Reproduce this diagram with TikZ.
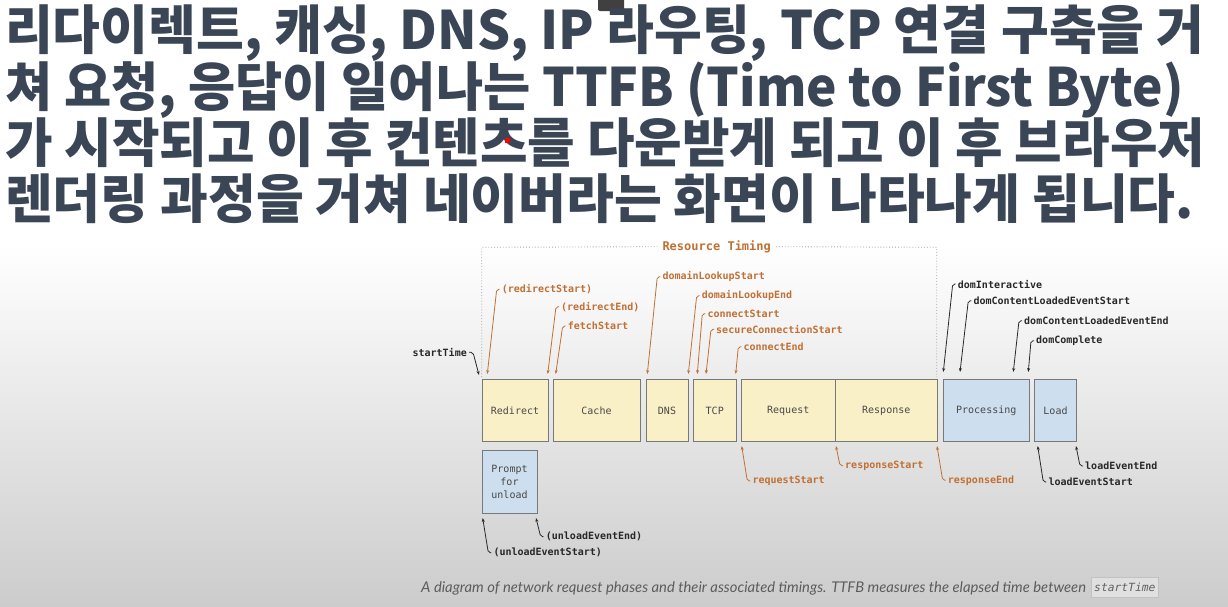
\documentclass[tikz,border=0pt]{standalone}
\usepackage{fontspec}
\usetikzlibrary{arrows.meta}
\newfontfamily\kr{Noto Sans CJK KR}
\newfontfamily\monof{DejaVu Sans Mono}
\newfontfamily\capfont{Lato}
\definecolor{ttl}{RGB}{58,69,86}
\definecolor{org}{RGB}{192,112,52}
\definecolor{yfill}{RGB}{250,240,200}
\definecolor{bfill}{RGB}{205,222,238}
\definecolor{bord}{RGB}{120,120,120}
\definecolor{ink}{RGB}{40,40,40}
\tikzset{
  ttlline/.style={font=\kr\bfseries\fontsize{53}{58}\selectfont, text=ttl, inner sep=0pt, anchor=base west},
  ybox/.style={draw=bord, fill=yfill, line width=0.9pt, inner sep=0pt, font=\monof\fontsize{10}{13}\selectfont, text=ink!85},
  bbox/.style={ybox, fill=bfill, align=center},
  lab/.style={font=\monof\bfseries\fontsize{10}{12}\selectfont, inner sep=0pt, anchor=west, text=ink},
  olab/.style={lab, text=org},
  conn/.style={draw=ink, line width=0.8pt, rounded corners=2pt, -{Stealth[length=4pt,width=3pt]}},
  oconn/.style={conn, draw=org},
  bracket/.style={draw=black!35, dotted, line width=0.9pt}
}
\begin{document}
\begin{tikzpicture}[x=1pt,y=-1pt]
\useasboundingbox (0,0) rectangle (1228,606);
\fill[white] (0,0) rectangle (1228,606);
\shade[top color=white, bottom color=black!20] (0,245) rectangle (1228,606);
% small screen icon
\fill[black!75, rounded corners=2pt] (598,-6) rectangle (624,11);
% title
\node[ttlline] (t1) at (5,49.5) {\scalebox{0.98}[1]{리다이렉트, 캐싱, DNS, IP 라우팅, TCP 연결 구축을 거}};
\node[ttlline] (t2) at (5,106) {\scalebox{0.968}[1]{쳐 요청, 응답이 일어나는 TTFB (Time to First Byte)}};
\node[ttlline] (t3) at (5,162) {\scalebox{0.975}[1]{가 시작되고 이 후 컨텐츠를 다운받게 되고 이 후 브라우저}};
\node[ttlline] (t4) at (5,218.5) {\scalebox{0.98}[1]{렌더링 과정을 거쳐 네이버라는 화면이 나타나게 됩니다.}};
\fill[red] (505,138) rectangle (510,143);
% boxes
\node[ybox, minimum width=66pt, minimum height=62pt] (redirect) at (515,410.5) {Redirect};
\node[ybox, minimum width=87pt, minimum height=62pt] (cache) at (596.5,410.5) {Cache};
\node[ybox, minimum width=42pt, minimum height=62pt] (dns) at (667,410.5) {DNS};
\node[ybox, minimum width=42.5pt, minimum height=62pt] (tcp) at (714.75,410.5) {TCP};
\node[ybox, minimum width=94.5pt, minimum height=62pt] (request) at (788.25,410.5) {Request};
\node[ybox, minimum width=101.5pt, minimum height=62pt] (response) at (886.25,410.5) {Response};
\node[bbox, minimum width=86.5pt, minimum height=62pt] (processing) at (986.25,410.5) {Processing};
\node[bbox, minimum width=42pt, minimum height=62pt] (load) at (1055.5,410.5) {Load};
\node[bbox, minimum width=55pt, minimum height=63pt, font=\monof\fontsize{10}{13.3}\selectfont] (prompt) at (509.5,482) {Prompt\\for\\unload};
% resource timing bracket
\node[font=\monof\bfseries\fontsize{12}{14}\selectfont, text=org, inner sep=0pt] (rt) at (716.7,246.7) {Resource Timing};
\coordinate (bl) at (481.7,377);
\coordinate (br) at (936.7,377);
\draw[bracket] (bl) -- (481.7,247.3) -- ([xshift=-5pt]rt.west);
\draw[bracket] ([xshift=5pt]rt.east) -- (936.7,247.3) -- (br);
% labels
\node[olab] (rs) at (501.7,289.3) {(redirectStart)};
\node[olab] (re) at (561,306.7) {(redirectEnd)};
\node[olab] (fs) at (567.7,326) {fetchStart};
\node[olab] (dls) at (662.3,276.7) {domainLookupStart};
\node[olab] (dle) at (701.7,295.7) {domainLookupEnd};
\node[olab] (cs) at (707.3,313.7) {connectStart};
\node[olab] (scs) at (716,329.3) {secureConnectionStart};
\node[olab] (ce) at (743.3,346.7) {connectEnd};
\node[lab, anchor=east] (st) at (467,352.3) {startTime};
\node[lab] (di) at (957.7,284) {domInteractive};
\node[lab] (dcls) at (973.3,300.7) {domContentLoadedEventStart};
\node[lab] (dcle) at (1024,320.7) {domContentLoadedEventEnd};
\node[lab] (dc) at (1036,340.7) {domComplete};
\node[olab] (rq) at (752.3,481) {requestStart};
\node[olab] (rsps) at (845,465.7) {responseStart};
\node[olab] (rspe) at (947.7,480.3) {responseEnd};
\node[lab] (les) at (1048.3,482) {loadEventStart};
\node[lab] (lee) at (1085,466) {loadEventEnd};
\node[lab] (ues) at (493.3,552.7) {(unloadEventStart)};
\node[lab] (uee) at (545.7,536.7) {(unloadEventEnd)};
% tips
\coordinate (rsT) at (487.3,374);
\coordinate (reT) at (547.7,374);
\coordinate (fsT) at (555.7,374);
\coordinate (dlsT) at (647.3,374);
\coordinate (dleT) at (688.3,374);
\coordinate (csT) at (697.3,374);
\coordinate (scsT) at (706,374);
\coordinate (ceT) at (735.7,374);
\coordinate (stT) at (479,375);
\coordinate (diT) at (943.3,372);
\coordinate (dclsT) at (960,372);
\coordinate (dcleT) at (1013.3,372);
\coordinate (dcT) at (1028.3,372);
\coordinate (rqT) at (741.7,446);
\coordinate (rspsT) at (836,446);
\coordinate (rspeT) at (937,446);
\coordinate (lesT) at (1037.7,446);
\coordinate (leeT) at (1076,446);
\coordinate (uesT) at (482.7,518);
\coordinate (ueeT) at (536,518);
% connectors
\foreach \n in {rs,re,fs,dls,dle,cs,scs,ce,rq,rsps,rspe}{
  \draw[oconn] ([xshift=-2pt]\n.west) -- ++(-3,0) -- (\n T);
}
\foreach \n in {di,dcls,dcle,dc,les,lee,ues,uee}{
  \draw[conn] ([xshift=-2pt]\n.west) -- ++(-3,0) -- (\n T);
}
\draw[conn] ([xshift=2pt]st.east) -- ++(4,0) -- (stT);
% caption
\node[font=\capfont\itshape\fontsize{14.8}{17}\selectfont, text=black!64, inner sep=0pt, anchor=base west] (cap) at (421,592) {A diagram of network request phases and their associated timings. TTFB measures the elapsed time between};
\node[font=\monof\itshape\fontsize{11.3}{13}\selectfont, text=black!62, fill=black!12, draw=black!24, inner xsep=3pt, minimum height=19.5pt, anchor=west] (code) at (1091,587) {startTime};
\end{tikzpicture}
\end{document}
